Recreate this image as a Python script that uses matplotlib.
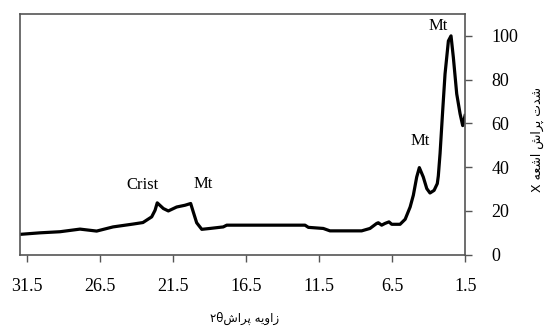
import matplotlib
matplotlib.use("Agg")
import matplotlib.pyplot as plt

# 2theta (deg) and relative intensity
two_theta = [32.0, 30.63, 29.26, 27.89, 26.75, 25.63, 24.26, 23.58, 22.98, 22.75,
             22.60, 22.18, 21.84, 21.27, 20.70, 20.31, 20.13, 19.90, 19.55, 18.99,
             18.08, 17.84, 12.48, 12.25, 11.23, 10.77, 8.60, 8.03, 7.57, 7.46,
             7.23, 7.00, 6.73, 6.54, 5.97, 5.62, 5.28, 5.06, 4.83, 4.65,
             4.38, 4.14, 3.92, 3.64, 3.42, 3.35, 3.23, 3.05, 2.89, 2.66,
             2.48, 2.32, 2.09, 1.86, 1.68, 1.52]
intensity = [9.3, 10.0, 10.5, 11.7, 10.8, 12.7, 14.0, 14.7, 17.3, 20.3,
             23.7, 21.1, 20.0, 21.8, 22.6, 23.4, 19.5, 14.6, 11.6, 12.0,
             12.7, 13.5, 13.5, 12.5, 12.0, 10.9, 10.9, 12.0, 14.3, 14.6,
             13.5, 14.3, 15.0, 13.9, 13.9, 16.2, 21.8, 27.2, 35.5, 39.8,
             35.5, 30.2, 28.2, 29.4, 32.5, 36.0, 46.3, 65.9, 82.6, 97.7,
             100.0, 90.1, 73.5, 64.4, 59.0, 63.6]

x_ticks = [31.5, 26.5, 21.5, 16.5, 11.5, 6.5, 1.5]
y_ticks = [0, 20, 40, 60, 80, 100]

peak_labels = ["Crist", "Mt", "Mt", "Mt"]
peak_x = [23.6, 19.45, 4.6, 3.35]
peak_y = [32.0, 32.5, 52.0, 104.5]

# Persian labels in presentation forms (visual order)
xlabel = "\u06F2\u03B8" + "\uFEB5\uFE8D\uFEAE\uFB58" + " " + "\uFEEA\uFBFE\uFEED\uFE8D\uFEAF"
ylabel = "X " + "\uFEEA\uFECC\uFEB7\uFE8D" + " " + "\uFEB5\uFE8D\uFEAE\uFB58" + " " + "\uFE95\uFEAA\uFEB7"

fig = plt.figure(figsize=(5.49, 3.33), dpi=100)
ax = fig.add_axes([0.0364, 0.2351, 0.8112, 0.7229])

ax.plot(two_theta, intensity, color="black", lw=2.3, solid_joinstyle="round")

ax.set_xlim(32.0, 1.5)
ax.set_ylim(0, 110)
ax.set_xticks(x_ticks)
ax.set_xticklabels([str(v) for v in x_ticks])
ax.set_yticks(y_ticks)

ax.yaxis.tick_right()
ax.yaxis.set_label_position("right")
ax.tick_params(axis="both", direction="out", length=5, width=1, color="#555555",
               labelsize=13, pad=6)
ax.tick_params(axis="x", pad=12)
ax.tick_params(axis="y", pad=14)
for lab in ax.get_xticklabels() + ax.get_yticklabels():
    lab.set_family("Liberation Serif")
for sp in ax.spines.values():
    sp.set_color("#555555")
    sp.set_linewidth(1.2)

for t, px, py in zip(peak_labels, peak_x, peak_y):
    ax.text(px, py, t, ha="center", va="center", fontsize=12, family="Liberation Serif")

fig.text(0.445, 0.045, xlabel, ha="center", va="center", fontsize=8.5, family=["DejaVu Sans"])
fig.text(0.978, 0.58, ylabel, ha="center", va="center", rotation=90, fontsize=9,
         family=["DejaVu Sans"])

fig.savefig("out.png", dpi=100)
